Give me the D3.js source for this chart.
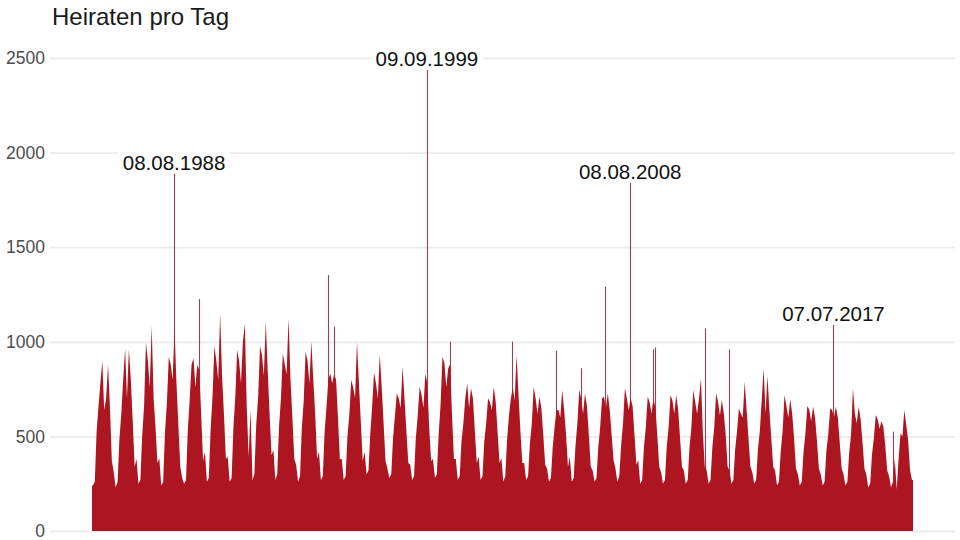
<!DOCTYPE html>
<html><head><meta charset="utf-8">
<script src="https://cdn.jsdelivr.net/npm/d3@7/dist/d3.min.js"></script>
<style>body{margin:0;background:#fff}svg{display:block}</style>
</head><body><svg id="c" width="960" height="540"></svg>
<script>
// ---- data ----
const years = [1985,1986,1987,1988,1989,1990,1991,1992,1993,1994,1995,1996,1997,1998,1999,2000,2001,2002,2003,2004,2005,2006,2007,2008,2009,2010,2011,2012,2013,2014,2015,2016,2017,2018,2019,2020];
// monthly peak number of weddings per day (Jan..Dec), one row per year
const monthlyPeaks = [
 [240,260,520,660,780,900,640,700,880,660,370,310],
 [230,260,480,620,800,965,700,960,800,580,340,380],
 [250,270,500,660,995,900,760,1085,700,550,360,384],
 [240,260,520,680,920,880,800,1062,780,560,340,280],
 [250,270,530,700,880,913,760,880,850,620,370,419],
 [260,280,530,710,978,900,800,1150,820,620,380,393],
 [260,280,540,710,957,900,780,1000,1094,660,390,640],
 [270,300,560,710,978,930,820,1106,850,620,400,428],
 [270,300,550,700,939,880,830,1124,800,600,380,349],
 [260,290,540,690,948,900,780,1001,800,620,380,420],
 [270,290,520,660,800,833,780,830,800,600,380,380],
 [270,290,500,620,798,760,700,1000,780,580,370,419],
 [300,320,510,660,837,780,700,934,760,570,370,330],
 [280,300,490,610,728,700,650,869,700,530,360,350],
 [270,290,490,610,763,720,650,833,780,550,370,380],
 [280,300,510,670,921,886,760,860,880,610,380,380],
 [270,290,470,570,700,780,650,754,700,530,360,393],
 [270,290,470,570,701,680,640,763,680,520,360,384],
 [260,290,480,610,700,760,690,930,720,530,360,360],
 [270,290,460,570,763,700,620,710,650,510,350,330],
 [260,280,440,550,640,640,600,745,640,510,340,390],
 [260,280,450,570,745,700,620,728,660,510,340,320],
 [260,280,440,550,700,710,650,728,640,510,375,330],
 [260,290,450,570,754,700,640,701,660,510,350,375],
 [250,270,440,550,710,680,620,700,650,510,340,310],
 [250,270,440,550,719,690,620,719,640,490,340,320],
 [250,270,440,550,745,680,620,700,807,520,340,320],
 [250,270,440,550,728,680,610,692,620,510,340,320],
 [250,270,430,530,648,620,600,789,640,490,340,310],
 [250,270,430,530,692,860,620,819,640,490,340,320],
 [240,260,420,530,719,660,600,696,620,490,330,300],
 [240,260,420,520,662,640,580,657,600,480,330,300],
 [240,260,420,510,648,640,600,657,600,470,330,300],
 [240,260,410,510,754,620,570,657,590,470,330,300],
 [230,250,400,490,613,590,540,580,550,450,320,290],
 [230,260,380,220,380,516,500,640,560,480,320,270]
];
// single days with exceptionally many weddings
const spikeDates  = ["1988-08-08","1989-09-09","1995-05-05","1995-08-12","1999-09-09","2000-09-09","2003-06-06","2005-05-05","2006-06-06","2007-07-07","2008-08-08","2009-08-08","2009-09-09","2011-11-11","2012-12-12","2017-07-07","2020-02-20"];
const spikeValues = [1887,1226,1353,1080,2437,1001,1001,953,860,1291,1840,960,970,1071,960,1089,525];
const labelledDates = ["1988-08-08","1999-09-09","2008-08-08","2017-07-07"];
const yTicks = [0,500,1000,1500,2000,2500];
const title = "Heiraten pro Tag";

// ---- drawing ----
const svg = d3.select("#c");
const font = "'Liberation Sans', Arial, Helvetica, sans-serif";
const parse = d3.utcParse("%Y-%m-%d");
const fmt = d3.utcFormat("%d.%m.%Y");

const x = d3.scaleUtc()
  .domain([Date.UTC(years[0],0,1), Date.UTC(years[years.length-1]+1,0,1)])
  .range([92, 913]);
const y = d3.scaleLinear().domain([0,2500]).range([531,58]);

// gridlines + y labels via axis
const yAxis = d3.axisLeft(y).tickValues(yTicks).tickSize(-(955-50)).tickPadding(5).tickFormat(d3.format("d"));
const ga = svg.append("g").attr("transform","translate(50,0)").call(yAxis);
ga.select(".domain").remove();
ga.selectAll(".tick line").attr("stroke","#ebebeb").attr("stroke-width",1.8);
ga.selectAll(".tick text").attr("fill","#4d4d4d").style("font-family",font).style("font-size","17.5px");

// spikes (drawn beneath the area so only the part above the fill shows)
const spikes = spikeDates.map((d,i)=>({date:parse(d), v:spikeValues[i], label:labelledDates.includes(d)}));
svg.append("g").selectAll("line").data(spikes).join("line")
  .attr("x1",d=>Math.round(x(d.date))+0.5).attr("x2",d=>Math.round(x(d.date))+0.5)
  .attr("y1",y(0)).attr("y2",d=>y(d.v))
  .attr("stroke","#8f4456").attr("stroke-width",1.1);

// monthly series (point at middle of each month)
const pts = [];
years.forEach((yr,i)=>{
  monthlyPeaks[i].forEach((v,m)=>pts.push({date:new Date(Date.UTC(yr,m,15)), v}));
});
const first = pts[0], last = pts[pts.length-1];
const series = [{date:new Date(Date.UTC(years[0],0,1)), v:first.v}, ...pts,
                {date:new Date(Date.UTC(years[years.length-1]+1,0,1)), v:last.v}];
const area = d3.area().x(d=>x(d.date)).y0(y(0)).y1(d=>y(d.v)).curve(d3.curveLinear);
svg.append("path").datum(series).attr("d",area).attr("fill","#ad1620");

// labels
const lab = svg.append("g").selectAll("g").data(spikes.filter(d=>d.label)).join("g")
  .attr("transform",d=>`translate(${x(d.date)},${y(d.v)})`);
lab.append("rect").attr("x",-56).attr("y",-23).attr("width",112).attr("height",22).attr("fill","#fff");
lab.append("text").attr("text-anchor","middle").attr("y",-3.5)
  .style("font-family",font).style("font-size","20.5px").attr("fill","#111")
  .text(d=>fmt(d.date));

// title
svg.append("text").attr("x",52).attr("y",25).text(title)
  .style("font-family",font).style("font-size","24px").attr("fill","#1a1a1a");
</script></body></html>
